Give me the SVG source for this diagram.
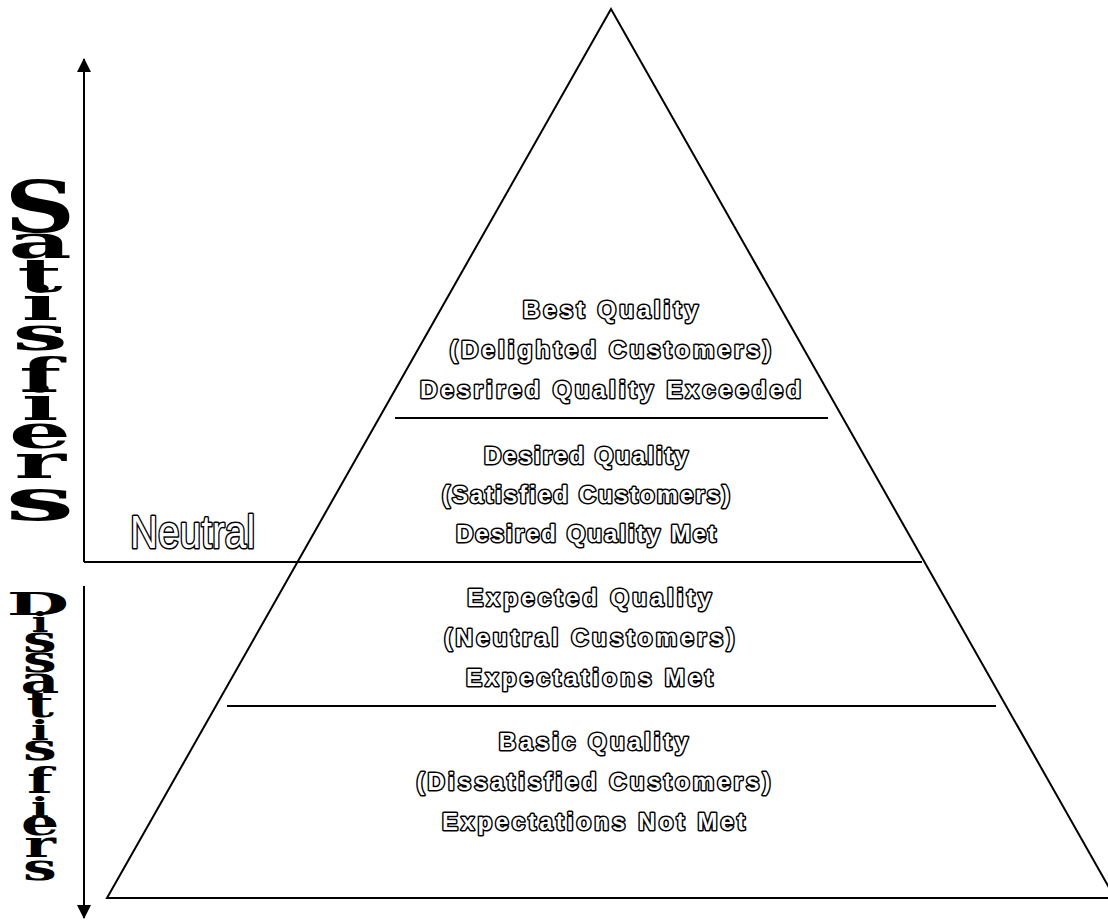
<svg xmlns="http://www.w3.org/2000/svg" width="1108" height="920" viewBox="0 0 1108 920">
<style>
.ln{stroke:#000;stroke-width:2;fill:none}
.q{font-family:"Liberation Sans",Arial,sans-serif;font-weight:bold;font-size:24px;fill:#fff;stroke:#000;stroke-width:3;stroke-linejoin:round;paint-order:stroke;text-anchor:middle}
.n{font-family:"Liberation Sans",Arial,sans-serif;font-size:46px;fill:#fff;stroke:#000;stroke-width:3.2;stroke-linejoin:round;paint-order:stroke}
.v{font-family:"DejaVu Serif",serif;font-weight:bold;font-size:40px;fill:#000;text-anchor:middle}
</style>
<defs>
<marker id="ah2" viewBox="0 0 14 14" refX="13" refY="7" markerWidth="14" markerHeight="14" orient="auto" markerUnits="userSpaceOnUse">
<path d="M0,0 L14,7 L0,14 z" fill="#000"/>
</marker>
</defs>
<rect width="1108" height="920" fill="#fff"/>
<g id="pyramid">
<polygon class="ln" points="611,9 107,898 1115,898"/>
</g>
<g id="connectors">
<line class="ln" x1="84" y1="562" x2="84" y2="59" marker-end="url(#ah2)"/>
<line class="ln" x1="84" y1="586" x2="84" y2="918" marker-end="url(#ah2)"/>
<line class="ln" x1="395" y1="418" x2="828" y2="418"/>
<line class="ln" x1="84" y1="562" x2="922" y2="562"/>
<line class="ln" x1="227" y1="706" x2="996" y2="706"/>
</g>
<g id="level-best" style="letter-spacing:3.2px">
<text class="q" x="612" y="318">Best Quality</text>
<text class="q" x="612" y="358">(Delighted Customers)</text>
<text class="q" x="612" y="398">Desrired Quality Exceeded</text>
</g>
<g id="level-desired" style="letter-spacing:2px">
<text class="q" x="587" y="464">Desired Quality</text>
<text class="q" x="587" y="503">(Satisfied Customers)</text>
<text class="q" x="587" y="542">Desired Quality Met</text>
</g>
<g id="level-expected" style="letter-spacing:3.3px">
<text class="q" x="591" y="606">Expected Quality</text>
<text class="q" x="591" y="646">(Neutral Customers)</text>
<text class="q" x="591" y="686">Expectations Met</text>
</g>
<g id="level-basic" style="letter-spacing:3.1px">
<text class="q" x="595" y="750">Basic Quality</text>
<text class="q" x="595" y="790">(Dissatisfied Customers)</text>
<text class="q" x="595" y="830">Expectations Not Met</text>
</g>
<g id="label-neutral">
<text class="n" x="130" y="548" textLength="125" lengthAdjust="spacingAndGlyphs">Neutral</text>
</g>
<g id="label-satisfiers">
<text class="v" transform="translate(40,232) scale(2.45,1.8)">S</text>
<text class="v" transform="scale(2.45,1.15)"><tspan x="16.33" y="224.3">a</tspan><tspan x="16.33" y="253.9">t</tspan><tspan x="16.33" y="278.3">i</tspan><tspan x="16.33" y="304.3">s</tspan><tspan x="16.33" y="340.9">f</tspan><tspan x="16.33" y="365.2">i</tspan><tspan x="16.33" y="389.6">e</tspan><tspan x="16.33" y="415.7">r</tspan><tspan x="16.33" y="452.2" font-size="50">s</tspan></text>
</g>
<g id="label-dissatisfiers">
<text class="v" transform="translate(38,615) scale(1.8,0.8)">D</text>
<text class="v" transform="scale(1.5,0.9)"><tspan x="26.67" y="702.2" font-size="30">i</tspan><tspan x="26.67" y="724.4">s</tspan><tspan x="26.67" y="746.7">s</tspan><tspan x="26.67" y="770">a</tspan><tspan x="26.67" y="796.7">t</tspan><tspan x="26.67" y="822.2" font-size="32">i</tspan><tspan x="26.67" y="844.4">s</tspan><tspan x="26.67" y="881.1">f</tspan><tspan x="26.67" y="907.8" font-size="32">i</tspan><tspan x="26.67" y="927.8">e</tspan><tspan x="26.67" y="952.2">r</tspan><tspan x="26.67" y="977.8">s</tspan></text>
</g>
</svg>
